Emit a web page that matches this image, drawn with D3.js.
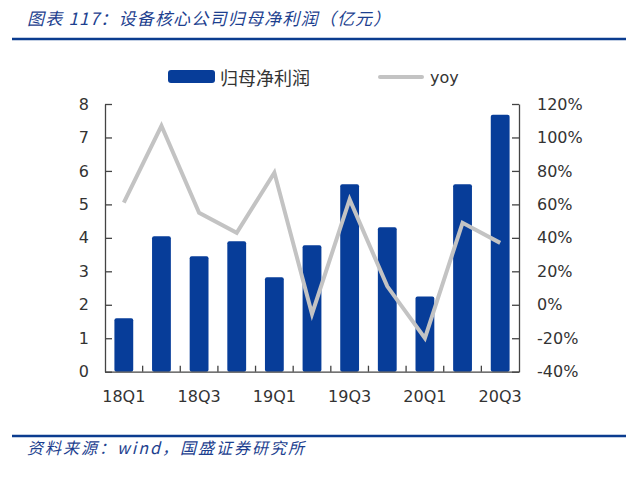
<!DOCTYPE html>
<html><head><meta charset="utf-8">
<script src="https://cdn.jsdelivr.net/npm/d3@7/dist/d3.min.js"></script>
<style>
html,body{margin:0;padding:0;background:#fff;}
svg{display:block;}
</style></head>
<body>
<svg id="c" width="640" height="480"></svg>
<script>
const categories = ["18Q1","18Q2","18Q3","18Q4","19Q1","19Q2","19Q3","19Q4","20Q1","20Q2","20Q3"];
const profit = [1.6, 4.05, 3.45, 3.9, 2.82, 3.78, 5.6, 4.32, 2.25, 5.6, 7.68];
const yoy = [0.61, 1.07, 0.55, 0.43, 0.79, -0.055, 0.63, 0.11, -0.20, 0.49, 0.37];
const leftTicks = [0,1,2,3,4,5,6,7,8];
const rightTicks = [-0.4,-0.2,0,0.2,0.4,0.6,0.8,1.0,1.2];
const xLabels = ["18Q1","18Q3","19Q1","19Q3","20Q1","20Q3"];
const titleText = "图表 117：设备核心公司归母净利润（亿元）";
const sourceText = "资料来源：wind，国盛证券研究所";
const legendBar = "归母净利润";
const legendLine = "yoy";

const BLUE = "#073d99", GREY = "#c3c3c3", AX = "#444", TXT = "#333";
const svg = d3.select("#c");
const L = 105, R = 519, T = 104, B = 371.7;

const x = d3.scaleBand().domain(categories).range([L, R]).paddingInner(0.5).paddingOuter(0.25);
const yL = d3.scaleLinear().domain([0, 8]).range([B, T]);
const yR = d3.scaleLinear().domain([-0.4, 1.2]).range([B, T]);

// title
svg.append("text").attr("x", 27).attr("y", 25)
  .attr("font-family", "'Noto Sans CJK SC'").attr("font-style", "italic")
  .attr("font-size", 17).attr("letter-spacing", 1.2).attr("fill", "#1d3f8f").text(titleText);
svg.append("line").attr("x1", 12).attr("x2", 626).attr("y1", 39).attr("y2", 39)
  .attr("stroke", "#0b3c8f").attr("stroke-width", 2.5);

// footer
svg.append("line").attr("x1", 12).attr("x2", 626).attr("y1", 436).attr("y2", 436)
  .attr("stroke", "#0b3c8f").attr("stroke-width", 2.5);
svg.append("text").attr("x", 27).attr("y", 454)
  .attr("font-family", "'Noto Sans CJK SC'").attr("font-style", "italic")
  .attr("font-size", 16).attr("letter-spacing", 2).attr("fill", "#1d3f8f").text(sourceText);

// legend
svg.append("rect").attr("x", 168).attr("y", 70).attr("width", 47).attr("height", 13).attr("rx", 3)
  .attr("fill", BLUE);
svg.append("text").attr("x", 220).attr("y", 77).attr("dominant-baseline", "central")
  .attr("font-family", "'Noto Sans CJK SC'").attr("font-size", 18).attr("fill", TXT).text(legendBar);
svg.append("line").attr("x1", 380).attr("x2", 422).attr("y1", 77).attr("y2", 77)
  .attr("stroke", GREY).attr("stroke-width", 4).attr("stroke-linecap", "round");
svg.append("text").attr("x", 430).attr("y", 77).attr("dominant-baseline", "central")
  .attr("font-family", "'DejaVu Sans'").attr("font-size", 16).attr("fill", TXT).text(legendLine);

// bars
svg.append("g").selectAll("rect").data(categories).join("rect")
  .attr("x", d => x(d)).attr("width", x.bandwidth())
  .attr("y", (d, i) => yL(profit[i])).attr("height", (d, i) => yL(0) - yL(profit[i]))
  .attr("rx", 2).attr("fill", BLUE);

// line
const line = d3.line().x((d, i) => x(categories[i]) + x.bandwidth() / 2).y(d => yR(d));
svg.append("path").datum(yoy).attr("d", line).attr("fill", "none")
  .attr("stroke", GREY).attr("stroke-width", 4).attr("stroke-linejoin", "miter");

// axes
function style(g) {
  g.selectAll("path.domain").attr("stroke", AX).attr("stroke-width", 1.3);
  g.selectAll(".tick line").attr("stroke", AX).attr("stroke-width", 1.3);
  g.selectAll("text").attr("font-family", "'DejaVu Sans'").attr("font-size", 16).attr("fill", TXT);
}
svg.append("g").attr("transform", `translate(${L},0)`)
  .call(d3.axisLeft(yL).tickValues(leftTicks).tickSize(-7).tickSizeOuter(0).tickPadding(16).tickFormat(d3.format("d")))
  .call(style);
svg.append("g").attr("transform", `translate(${R},0)`)
  .call(d3.axisRight(yR).tickValues(rightTicks).tickSize(-7).tickSizeOuter(0).tickPadding(18)
    .tickFormat(d => Math.round(d * 100) + "%"))
  .call(style);
const gx = svg.append("g").attr("transform", `translate(0,${B})`)
  .call(d3.axisBottom(x).tickValues(xLabels).tickSize(0).tickSizeOuter(0).tickPadding(19))
  .call(style);
// category boundary ticks
const gap = (x.step() - x.bandwidth()) / 2;
svg.append("g").selectAll("line").data(categories.slice(1)).join("line")
  .attr("x1", d => x(d) - gap).attr("x2", d => x(d) - gap)
  .attr("y1", B).attr("y2", B - 6).attr("stroke", AX).attr("stroke-width", 1.3);
</script>
</body></html>
